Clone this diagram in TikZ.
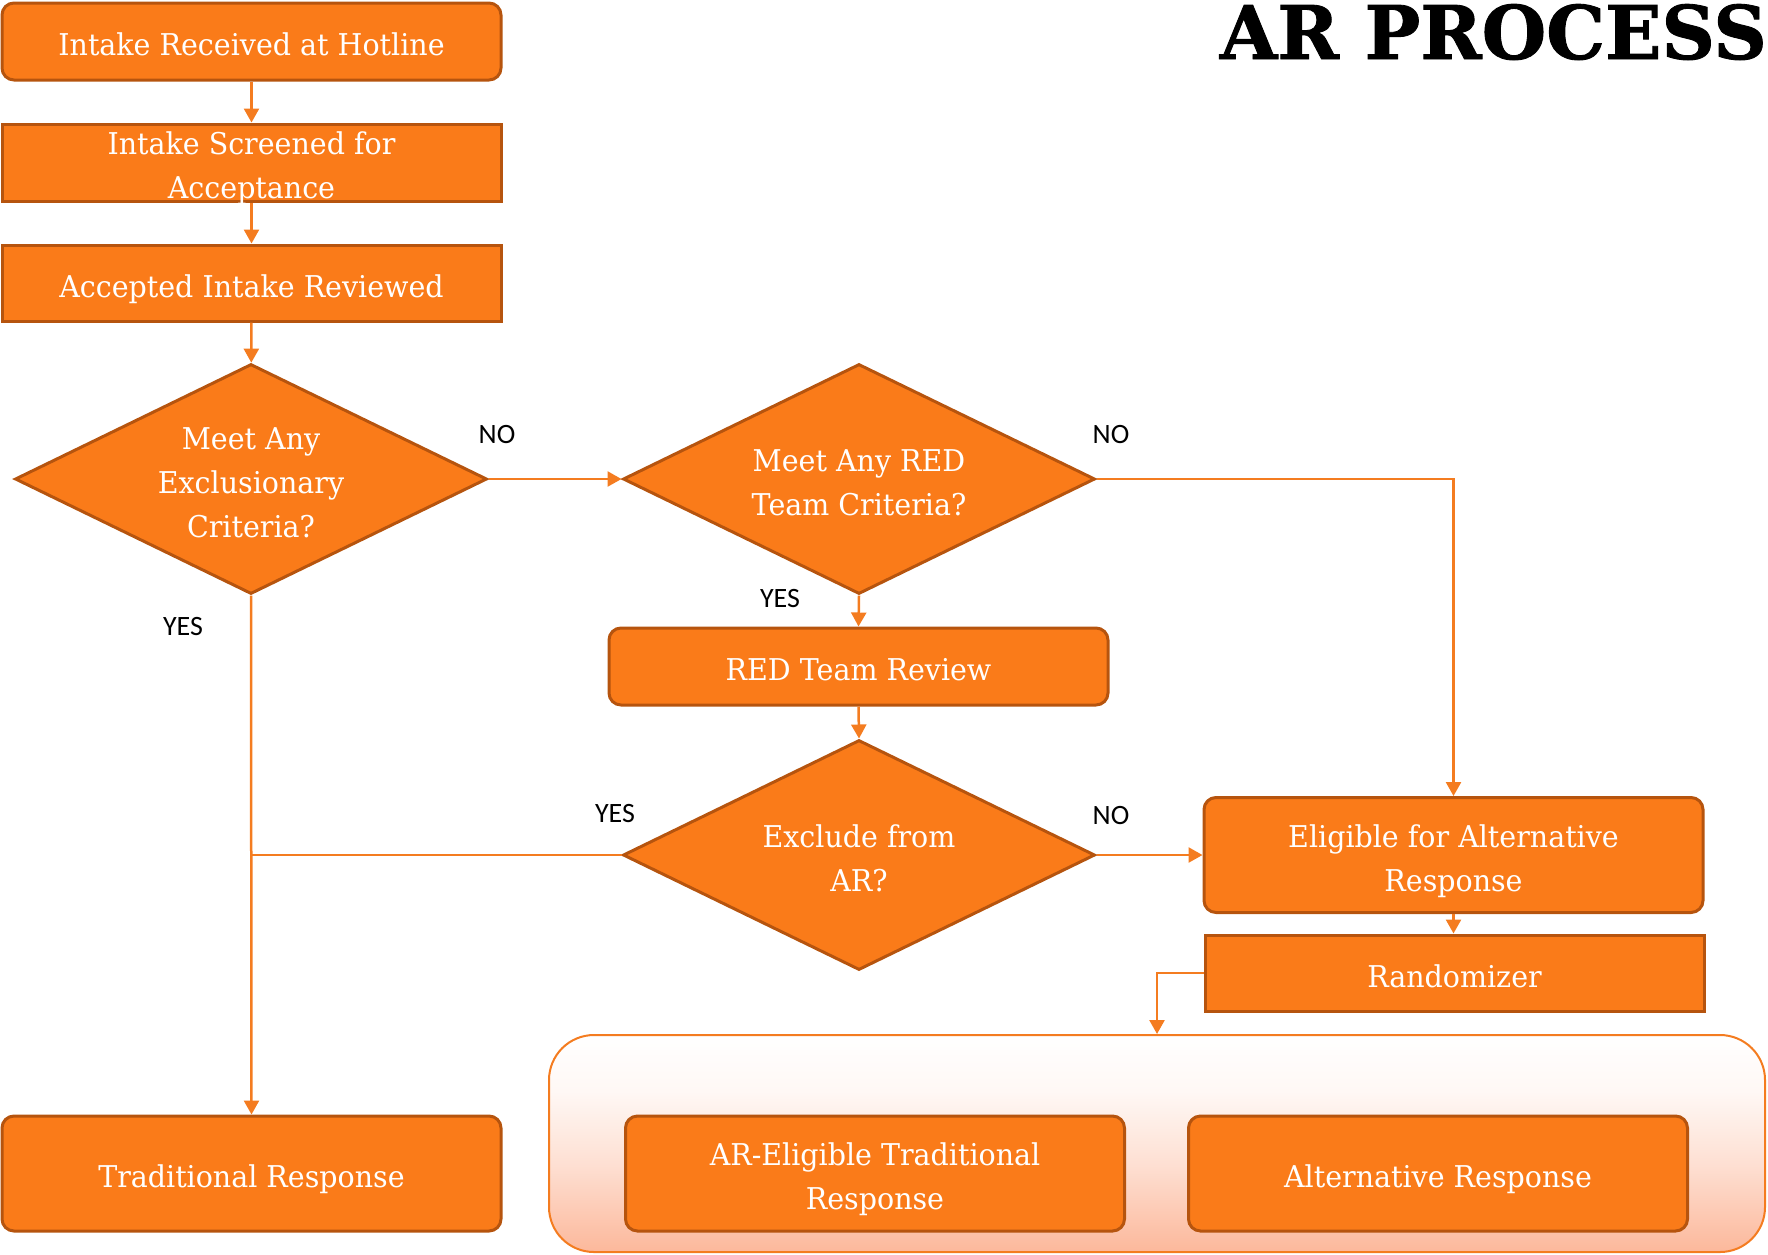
\documentclass[tikz,border=0pt]{standalone}
\usepackage{fontspec}
\usetikzlibrary{shapes.geometric,arrows.meta}
\newfontfamily\boxfont[FakeStretch=0.95]{DejaVu Serif}
\newfontfamily\titlefont[FakeBold=1.2]{DejaVu Serif}
\newfontfamily\labfont{Carlito}
\definecolor{boxfill}{RGB}{250,123,25}
\definecolor{boxedge}{RGB}{182,84,14}
\definecolor{lineor}{RGB}{244,124,32}
\definecolor{salmon}{RGB}{252,184,155}
\pgfdeclareverticalshading{contshade}{100bp}{color(0bp)=(salmon); color(25bp)=(salmon); color(45bp)=(salmon!45!white); color(62bp)=(salmon!10!white); color(75bp)=(white); color(100bp)=(white)}
\newcommand\tx[1]{\raisebox{-11.5pt}[0pt][0pt]{\begin{tabular}{@{}c@{}}#1\end{tabular}}}
\begin{document}
\begin{tikzpicture}[x=1pt,y=-1pt,
  base/.style={draw=boxedge, line width=3pt, fill=boxfill, text=white,
    font=\boxfont\fontsize{30}{44}\selectfont, align=center, inner sep=0pt},
  rbox/.style={base, rectangle, rounded corners=12pt, minimum width=499pt, minimum height=#1},
  sbox/.style={base, rectangle, minimum width=499pt, minimum height=#1},
  dia/.style={base, diamond, aspect=2.05, minimum width=472pt, minimum height=230pt},
  conn/.style={draw=lineor, line width=2.5pt, -{Triangle[length=14pt,width=15pt]}},
  plain/.style={draw=lineor, line width=2.5pt},
  lab/.style={font=\labfont\fontsize{28}{30}\selectfont, inner sep=0pt}
]
\useasboundingbox (0,0) rectangle (1768,1254);

% title
\node[anchor=base east, inner sep=0pt, font=\titlefont\bfseries\fontsize{74}{80}\selectfont] (title) at (1767,59) {AR PROCESS};

% container
\node[rectangle, rounded corners=45pt, draw=lineor, line width=2pt, shading=contshade,
  minimum width=1216pt, minimum height=217pt, inner sep=0pt] (cont) at (1157,1143.5) {};

% boxes
\node[rbox=77pt] (n1) at (251.5,41.5) {\tx{Intake Received at Hotline}};
\node[sbox=77pt] (n2) at (251.5,162.5) {\tx{Intake Screened for\\Acceptance}};
\node[sbox=76pt] (n3) at (251.5,283) {\tx{Accepted Intake Reviewed}};
\node[dia] (d1) at (251,479) {\tx{Meet Any\\Exclusionary\\Criteria?}};
\node[dia] (d2) at (859,479) {\tx{Meet Any RED\\Team Criteria?}};
\node[rbox=77pt] (red) at (858.5,666.5) {\tx{RED Team Review}};
\node[dia] (d3) at (859,855) {\tx{Exclude from\\AR?}};
\node[rbox=115pt] (elig) at (1453.5,855) {\tx{Eligible for Alternative\\Response}};
\node[sbox=76pt] (rand) at (1454.5,973) {\tx{Randomizer}};
\node[rbox=115pt] (trad) at (251.5,1173.5) {\tx{Traditional Response}};
\node[rbox=115pt] (areli) at (875,1173.5) {\tx{AR-Eligible Traditional\\Response}};
\node[rbox=115pt] (alt) at (1438,1173.5) {\tx{Alternative Response}};

% connectors
\draw[conn] (n1) -- (n2);
\draw[conn] (n2) -- (n3);
\draw[conn] (n3) -- (d1);
\draw[conn] (d1.east) -- (d2.west);
\draw[conn] (d2.east) -| (elig.north);
\draw[conn] (d2.south) -- (red.north);
\draw[conn] (red.south) -- (d3.north);
\draw[conn] (d3.east) -- (elig.west);
\draw[plain] (d3.west) -- (d3.west -| d1.south);
\draw[conn] (d1.south) -- (trad.north);
\draw[conn] (elig.south) -- (elig.south |- rand.north);
\draw[conn] (rand.west) -| (cont.north);

% labels
\node[lab] (no1) at (497,434) {NO};
\node[lab] (no2) at (1111,434) {NO};
\node[lab] (yes1) at (780,598) {YES};
\node[lab] (yes2) at (183,626) {YES};
\node[lab] (yes3) at (615,813) {YES};
\node[lab] (no3) at (1111,815) {NO};
\end{tikzpicture}
\end{document}
